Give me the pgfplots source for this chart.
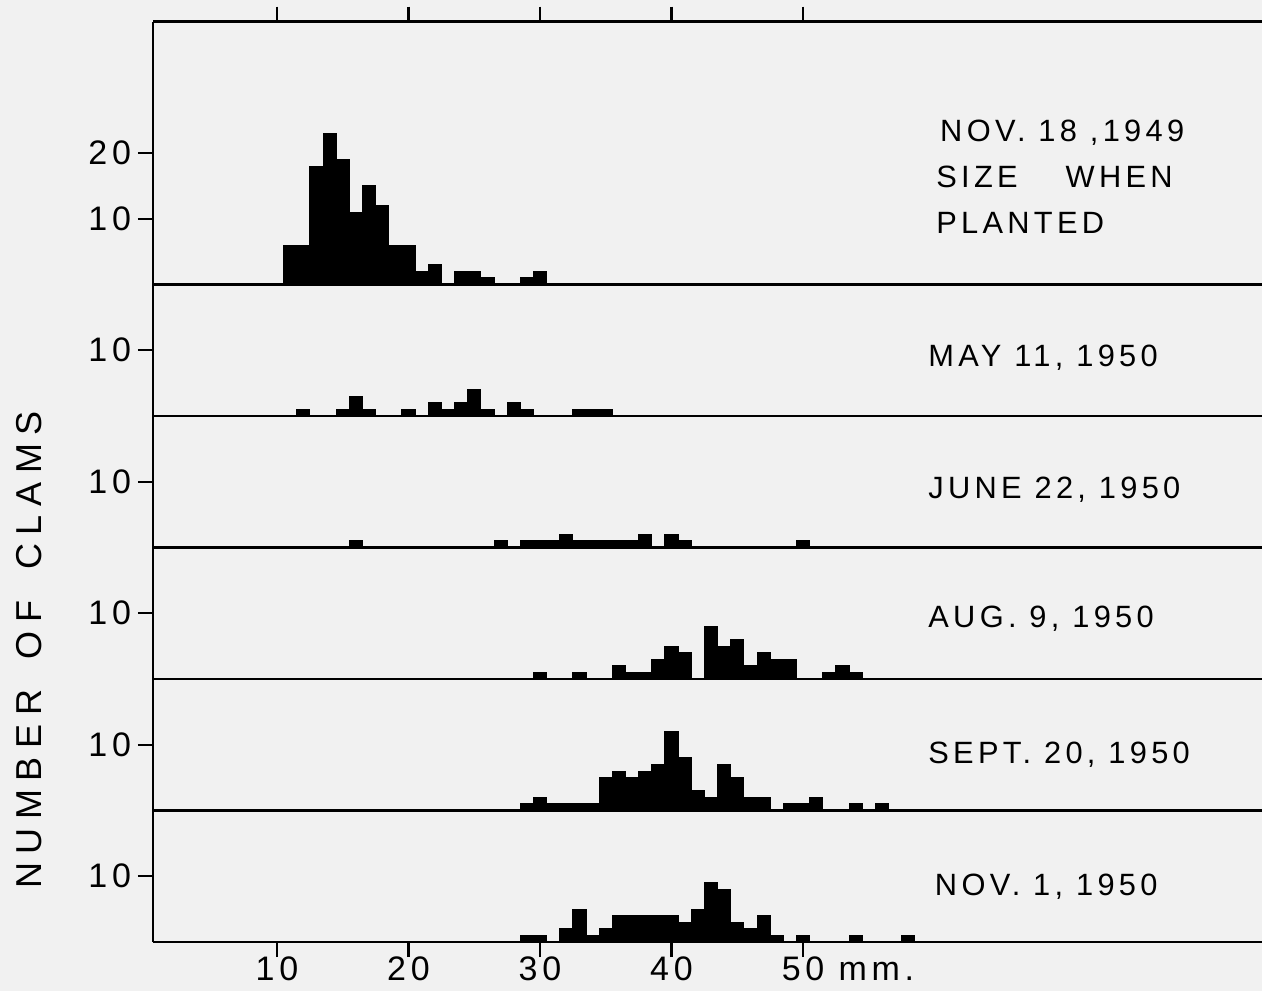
\documentclass[border=0pt]{standalone}
\usepackage{fontspec}
\setmainfont{Liberation Sans}[LetterSpace=14]
\newfontfamily\spacedfont{Liberation Sans}[LetterSpace=24]
\usepackage{pgfplots}
\pgfplotsset{compat=1.18}
\definecolor{paper}{gray}{0.945}

% one panel per sampling date, stacked on a common length scale (mm)
\pgfplotsset{
  panel/.style={
    scale only axis, width=554.5pt, height=65.75pt,
    xmin=0.57, xmax=84.9, ymin=0, ymax=20,
    anchor=south west,
    axis x line*=bottom, axis y line*=left,
    axis line style={line width=1.3pt, black},
    xtick=\empty,
    ytick={10}, yticklabels={10},
    tick align=outside, major tick length=7.5pt,
    tick style={black, line width=1.2pt},
    tick label style={font=\fontsize{17}{20}\selectfont},
    /pgf/number format/assume math mode=true,
    clip=false,
  },
  hist/.style={ybar interval, fill=black, draw=black, line width=0.5pt},
}
\tikzset{
  date/.style={anchor=base west, inner sep=0pt, font=\fontsize{15.4}{18}\selectfont},
}

\begin{document}
\begin{tikzpicture}
\fill[paper] (0,0) rectangle (631pt,495.5pt);
\useasboundingbox (0,0) rectangle (631pt,495.5pt);

% Nov. 18, 1949 -- size when planted
\begin{axis}[panel, at={(76.5pt,353.25pt)}, height=131.5pt, ymax=40,
  axis x line*=box, xtick={10,20,30,40,50}, xtick pos=right,
  xticklabels={,,,,},
  ytick={10,20}, yticklabels={10,20}]
\addplot[hist] coordinates {
  (10.5,6) (11.5,6) (12.5,18) (13.5,23) (14.5,19) (15.5,11) (16.5,15)
  (17.5,12) (18.5,6) (19.5,6) (20.5,2) (21.5,3) (22.5,0) (23.5,2)
  (24.5,2) (25.5,1) (26.5,0) (27.5,0) (28.5,1) (29.5,2) (30.5,0)};
\node[date] at (axis cs:60.4,21.7) {NOV. 18 ,1949};
\node[date] at (axis cs:60.1,14.7) {SIZE\hspace{24pt}WHEN};
\node[date] at (axis cs:60.1,7.8) {PLANTED};
\end{axis}

% May 11, 1950
\begin{axis}[panel, at={(76.5pt,287.5pt)}]
\addplot[hist] coordinates {
  (11.5,1) (12.5,0) (13.5,0) (14.5,1) (15.5,3) (16.5,1) (17.5,0)
  (18.5,0) (19.5,1) (20.5,0) (21.5,2) (22.5,1) (23.5,2) (24.5,4)
  (25.5,1) (26.5,0) (27.5,2) (28.5,1) (29.5,0) (30.5,0) (31.5,0)
  (32.5,1) (33.5,1) (34.5,1) (35.5,0)};
\node[date] at (axis cs:59.5,7.6) {MAY 11, 1950};
\end{axis}

% June 22, 1950
\begin{axis}[panel, at={(76.5pt,221.75pt)}]
\addplot[hist] coordinates {
  (15.5,1) (16.5,0) (26.5,1) (27.5,0) (28.5,1) (29.5,1) (30.5,1)
  (31.5,2) (32.5,1) (33.5,1) (34.5,1) (35.5,1) (36.5,1) (37.5,2)
  (38.5,0) (39.5,2) (40.5,1) (41.5,0) (49.5,1) (50.5,0)};
\node[date] at (axis cs:59.5,7.4) {JUNE 22, 1950};
\end{axis}

% Aug. 9, 1950
\begin{axis}[panel, at={(76.5pt,156pt)}]
\addplot[hist] coordinates {
  (29.5,1) (30.5,0) (32.5,1) (33.5,0) (35.5,2) (36.5,1) (37.5,1)
  (38.5,3) (39.5,5) (40.5,4) (41.5,0) (42.5,8) (43.5,5) (44.5,6)
  (45.5,2) (46.5,4) (47.5,3) (48.5,3) (49.5,0) (51.5,1) (52.5,2)
  (53.5,1) (54.5,0)};
\node[date] at (axis cs:59.5,7.8) {AUG. 9, 1950};
\end{axis}

% Sept. 20, 1950
\begin{axis}[panel, at={(76.5pt,90.25pt)}]
\addplot[hist] coordinates {
  (28.5,1) (29.5,2) (30.5,1) (31.5,1) (32.5,1) (33.5,1) (34.5,5)
  (35.5,6) (36.5,5) (37.5,6) (38.5,7) (39.5,12) (40.5,8) (41.5,3)
  (42.5,2) (43.5,7) (44.5,5) (45.5,2) (46.5,2) (47.5,0) (48.5,1)
  (49.5,1) (50.5,2) (51.5,0) (53.5,1) (54.5,0) (55.5,1) (56.5,0)};
\node[date] at (axis cs:59.5,7.2) {SEPT. 20, 1950};
\end{axis}

% Nov. 1, 1950
\begin{axis}[panel, at={(76.5pt,24.5pt)},
  xtick={10,20,30,40,50}, xtick pos=left,
  xticklabels={10,20,30,40,{50\rlap{ mm.}}},
  xticklabel style={inner sep=1pt, yshift=1.5pt}]
\addplot[hist] coordinates {
  (28.5,1) (29.5,1) (30.5,0) (31.5,2) (32.5,5) (33.5,1) (34.5,2)
  (35.5,4) (36.5,4) (37.5,4) (38.5,4) (39.5,4) (40.5,3) (41.5,5)
  (42.5,9) (43.5,8) (44.5,3) (45.5,2) (46.5,4) (47.5,1) (48.5,0)
  (49.5,1) (50.5,0) (53.5,1) (54.5,0) (57.5,1) (58.5,0)};
\node[date] at (axis cs:60.0,7.0) {NOV. 1, 1950};
\end{axis}

\node[rotate=90, font=\spacedfont\fontsize{18}{21}\selectfont]
  at (14.5pt,170.5pt) {NUMBER\hspace{6pt} OF\hspace{6pt} CLAMS};
\end{tikzpicture}
\end{document}
